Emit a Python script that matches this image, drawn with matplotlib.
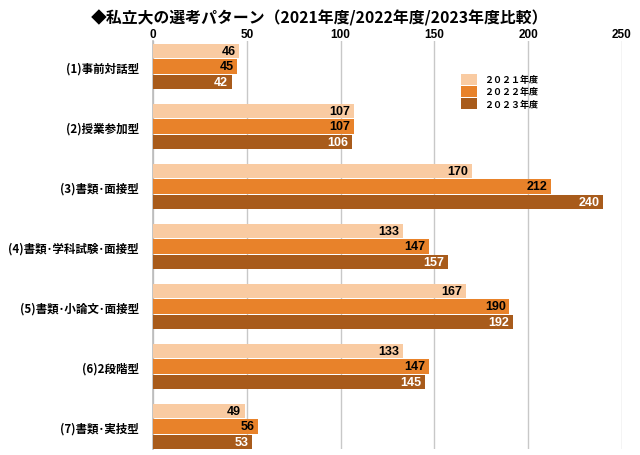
import matplotlib
matplotlib.use("Agg")
import matplotlib.pyplot as plt
import numpy as np

plt.rcParams['font.family'] = ['Noto Sans CJK JP', 'DejaVu Sans']

categories = ["(1)事前対話型", "(2)授業参加型", "(3)書類･面接型", "(4)書類･学科試験･面接型",
              "(5)書類･小論文･面接型", "(6)2段階型", "(7)書類･実技型"]
v2021 = [46, 107, 170, 133, 167, 133, 49]
v2022 = [45, 107, 212, 147, 190, 147, 56]
v2023 = [42, 106, 240, 157, 192, 145, 53]
series_labels = ["２０２１年度", "２０２２年度", "２０２３年度"]
colors = ["#F9CBA2", "#E8822A", "#A85B1B"]
text_colors = ["black", "black", "white"]
xticks = [0, 50, 100, 150, 200, 250]

fig = plt.figure(figsize=(6.4, 4.56), dpi=100)
top_px, bot_px = 42, 450
ax = fig.add_axes([153/640, 1-bot_px/456, (622-153)/640, (bot_px-top_px)/456])

y = np.arange(len(categories))
h = 14.5/60
off = 15.5/60
for i, (vals, c, tc, lab) in enumerate(zip([v2021, v2022, v2023], colors, text_colors, series_labels)):
    pos = y + (i - 1) * off
    bars = ax.barh(pos, vals, height=h, color=c, label=lab, zorder=3)
    for b, v in zip(bars, vals):
        ax.text(v - 2, b.get_y() + b.get_height()/2, str(v), ha='right', va='center',
                fontsize=9, fontweight='bold', color=tc, zorder=4, family='Liberation Sans')

ax.set_xlim(0, 250)
ax.set_ylim(6 + 0.375, -0.425)
ax.set_xticks(xticks)
ax.xaxis.tick_top()
ax.tick_params(axis='x', length=0, labelsize=8.5, pad=1)
for t in ax.get_xticklabels():
    t.set_fontweight('bold')
    t.set_family('Liberation Sans')
ax.set_yticks(y)
ax.set_yticklabels(categories, fontsize=8.3, fontweight='bold')
ax.tick_params(axis='y', length=0, pad=10)
ax.grid(axis='x', color='#C8C8C8', linewidth=1, zorder=0)
for s in ['top', 'right', 'bottom']:
    ax.spines[s].set_visible(False)
ax.spines['left'].set_color('#BBBBBB')
ax.spines['left'].set_linewidth(1.2)

leg = ax.legend(loc='upper left', bbox_to_anchor=(0.64, 0.94), frameon=False,
                handlelength=1.7, handleheight=1.5, labelspacing=0.15, handletextpad=0.8,
                prop={'weight': 'bold', 'size': 6.5})

fig.text(0.5, 1-18/456, "◆私立大の選考パターン（2021年度/2022年度/2023年度比較）",
         ha='center', va='center', fontsize=11.4, fontweight='bold')

fig.savefig("out.png", dpi=100)
